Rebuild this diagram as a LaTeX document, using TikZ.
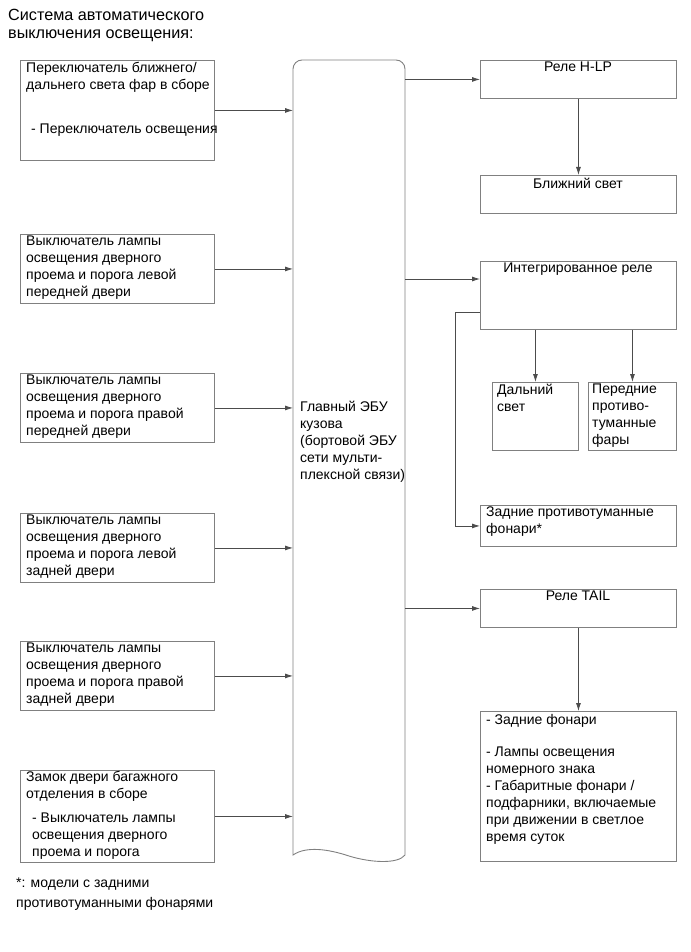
\documentclass[tikz,border=0pt]{standalone}
\usepackage{fontspec}
\setmainfont{Liberation Sans}
\usetikzlibrary{arrows.meta}
\begin{document}
\begin{tikzpicture}[x=1pt,y=-1pt,
  box/.style={draw=black!50, line width=0.9pt, inner sep=0pt, anchor=north west},
  txt/.style={inner sep=0pt, anchor=north west, align=left, font=\fontsize{14}{17}\selectfont},
  ctxt/.style={inner sep=0pt, anchor=north, align=center, font=\fontsize{14}{17}\selectfont},
  ttl/.style={inner sep=0pt, anchor=north west, align=left, font=\fontsize{16.2}{18}\selectfont},
  conn/.style={draw=black!70, line width=0.8pt, -{Latex[length=8pt,width=5pt]}},
  bar/.style={draw=black!50, line width=0.9pt}
]
\useasboundingbox (0,0) rectangle (690,952);

% title
\node[ttl] (title) at (8,9) {Система автоматического\\выключения освещения:};

% left boxes
\node[box, minimum width=194pt, minimum height=100pt] (b1) at (20,60) {};
\node[box, minimum width=194pt, minimum height=69pt] (b2) at (20,234) {};
\node[box, minimum width=194pt, minimum height=69pt] (b3) at (20,373) {};
\node[box, minimum width=194pt, minimum height=69pt] (b4) at (20,513) {};
\node[box, minimum width=194pt, minimum height=69pt] (b5) at (20,641) {};
\node[box, minimum width=194pt, minimum height=92pt] (b6) at (20,770) {};

\node[txt] (t1a) at (26,62) {Переключатель ближнего/\\дальнего света фар в сборе};
\node[txt] (t1b) at (31,124) {- Переключатель освещения};
\node[txt] (t2) at (26,236) {Выключатель лампы\\освещения дверного\\проема и порога левой\\передней двери};
\node[txt] (t3) at (26,375) {Выключатель лампы\\освещения дверного\\проема и порога правой\\передней двери};
\node[txt] (t4) at (26,515) {Выключатель лампы\\освещения дверного\\проема и порога левой\\задней двери};
\node[txt] (t5) at (26,643) {Выключатель лампы\\освещения дверного\\проема и порога правой\\задней двери};
\node[txt] (t6a) at (26,771) {Замок двери багажного\\отделения в сборе};
\node[txt] (t6b) at (32,813) {- Выключатель лампы\\освещения дверного\\проема и порога};

% central bar
\node[inner sep=0pt, minimum width=112pt, minimum height=795pt, anchor=north west] (bar) at (293,60) {};
\draw[bar] (293,855) -- (293,69) arc[start angle=180, end angle=270, radius=9] -- (396,60)
  arc[start angle=270, end angle=360, radius=9] -- (405,855)
  .. controls (398,864) and (372,863) .. (349,856)
  .. controls (328,849) and (306,846) .. (293,855) -- cycle;
\node[txt] (tbar) at (300,401) {Главный ЭБУ\\кузова\\(бортовой ЭБУ\\сети мульти-\\плексной связи)};

% right boxes
\node[box, minimum width=196pt, minimum height=38pt] (hlp) at (480,60) {};
\node[box, minimum width=196pt, minimum height=38pt] (low) at (480,175) {};
\node[box, minimum width=196pt, minimum height=68pt] (int) at (480,261) {};
\node[box, minimum width=86pt, minimum height=68pt] (far) at (492,382) {};
\node[box, minimum width=88pt, minimum height=68pt] (fog) at (588,382) {};
\node[box, minimum width=196pt, minimum height=41pt] (rfog) at (480,505) {};
\node[box, minimum width=196pt, minimum height=38pt] (tail) at (480,589) {};
\node[box, minimum width=196pt, minimum height=150pt] (rear) at (480,711) {};

\node[ctxt] (thlp) at (578,62) {Реле H-LP};
\node[ctxt] (tlow) at (578,178) {Ближний свет};
\node[ctxt] (tint) at (578,263) {Интегрированное реле};
\node[txt] (tfar) at (497,384) {Дальний\\свет};
\node[txt] (tfog) at (592,384) {Передние\\противо-\\туманные\\фары};
\node[txt] (trfog) at (486,507) {Задние противотуманные\\фонари*};
\node[ctxt] (ttail) at (578,591) {Реле TAIL};
\node[txt] (trear) at (486,714) {- Задние фонари\\[15pt]- Лампы освещения\\номерного знака\\- Габаритные фонари /\\подфарники, включаемые\\при движении в светлое\\время суток};

% footnote
\node[txt] (foot) at (16,878) {*: модели с задними\\[3pt]противотуманными фонарями};

% connectors left -> bar
\foreach \b in {b1,b2,b3,b4,b5,b6}
  \draw[conn] (\b.east) -- (\b.east -| bar.west);

% bar -> right
\coordinate (intin) at (480,279);
\draw[conn] (hlp.west -| bar.east) -- (hlp.west);
\draw[conn] (intin -| bar.east) -- (intin);
\draw[conn] (tail.west -| bar.east) -- (tail.west);

% vertical
\draw[conn] (hlp.south) -- (low.north);
\draw[conn] (far.north |- int.south) -- (far.north);
\draw[conn] (fog.north |- int.south) -- (fog.north);
\draw[conn] (tail.south) -- (rear.north);

% branch
\coordinate (brk) at (455,312);
\draw[conn] (brk -| int.west) -- (brk) |- (rfog.west);
\end{tikzpicture}
\end{document}
